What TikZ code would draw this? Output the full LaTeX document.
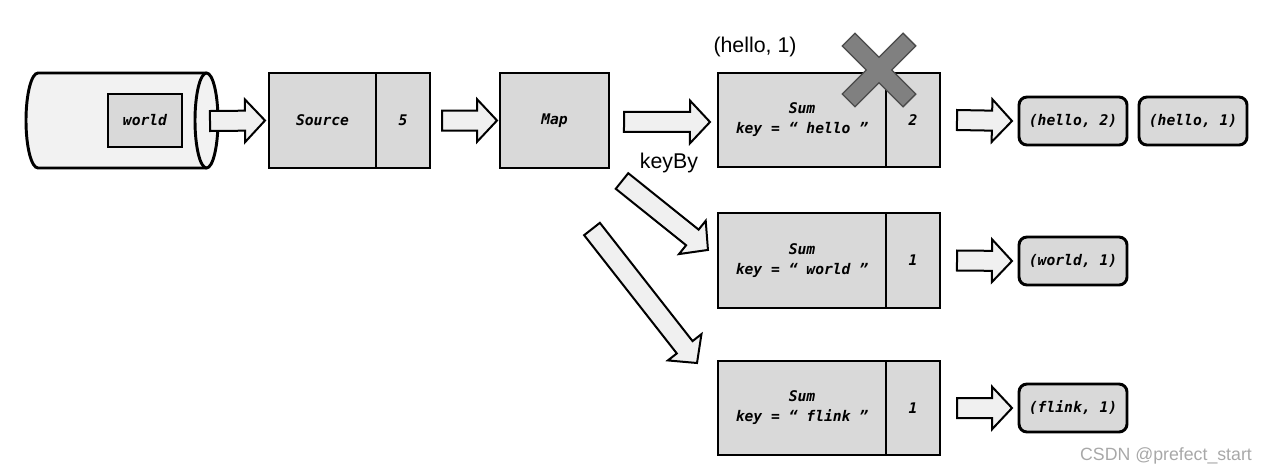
\documentclass[tikz,border=0pt]{standalone}
\usepackage{fontspec}
\setmainfont{Liberation Sans}
\newfontfamily\codefont{DejaVu Sans Mono}
\usetikzlibrary{positioning,calc}

\definecolor{boxgray}{HTML}{D9D9D9}
\definecolor{arrowfill}{HTML}{F0F0F0}
\definecolor{cylfill}{HTML}{F2F2F2}
\definecolor{crossgray}{HTML}{808080}
\definecolor{crossline}{HTML}{4A4A4A}
\definecolor{markgray}{HTML}{A8A8A8}

\newcommand{\pxu}{0.75pt}
\tikzset{
  cell/.style={draw=black, line width=2.2pt, fill=boxgray, inner sep=0pt, outer sep=0pt,
    minimum height=95*\pxu, align=center,
    font=\codefont\bfseries\itshape\fontsize{11}{15}\selectfont},
  tuple/.style={cell, rounded corners=8*\pxu, minimum width=108*\pxu, minimum height=48*\pxu},
  bigarrow/.style={draw=black, line width=1.5pt, fill=arrowfill, line join=miter},
  plaintext/.style={inner sep=0pt, font=\fontsize{16}{18}\selectfont},
}

% block arrow from #1 to #2
\newcommand{\fatarrow}[2]{%
  \draw[bigarrow] let \p1=(#1), \p2=(#2), \n1={atan2(\y2-\y1,\x2-\x1)}, \n2={veclen(\x2-\x1,\y2-\y1)} in
    [shift={(\p1)}, rotate=\n1]
    (0pt,-7.5pt) -- (\n2*1pt-15pt,-7.5pt) -- (\n2*1pt-15pt,-16pt) -- (\n2*1pt,0pt)
    -- (\n2*1pt-15pt,16pt) -- (\n2*1pt-15pt,7.5pt) -- (0pt,7.5pt) -- cycle;}

\begin{document}
\begin{tikzpicture}[x=0.75pt,y=-0.75pt]
    \useasboundingbox (0,0) rectangle (1269,475);

    % Input %
    \draw[line width=2.2pt, fill=cylfill] (206,73) -- (38,73)
        arc[start angle=270, end angle=90, x radius=12, y radius=47.5] -- (206,168);
    \draw[line width=2.2pt, fill=cylfill] (206.5,120.5) ellipse[x radius=11.5, y radius=47.5];
    \coordinate (cyl) at (210,121);
    \node[cell, minimum width=74*\pxu, minimum height=53*\pxu] (word) at (145,120.5) {world};

    % Operators %
    \node[cell, minimum width=107*\pxu] (src) at (322.5,120.5) {Source};
    \node[cell, minimum width=54*\pxu, right=0pt of src] (srcn) {5};
    \node[cell, minimum width=109*\pxu] (map) at (554.5,120.5) {Map};

    \node[cell, minimum width=168*\pxu, minimum height=94*\pxu] (sumh) at (802,120) {Sum\\key = “ hello ”};
    \node[cell, minimum width=54*\pxu, minimum height=94*\pxu, right=0pt of sumh] (sumhn) {2};
    \node[cell, minimum width=168*\pxu] (sumw) at (802,260.5) {Sum\\key = “ world ”};
    \node[cell, minimum width=54*\pxu, right=0pt of sumw] (sumwn) {1};
    \node[cell, minimum width=168*\pxu, minimum height=94*\pxu] (sumf) at (802,408) {Sum\\key = “ flink ”};
    \node[cell, minimum width=54*\pxu, minimum height=94*\pxu, right=0pt of sumf] (sumfn) {1};

    % Outputs %
    \node[tuple] (outh2) at (1073,121) {(hello, 2)};
    \node[tuple, right=12*\pxu of outh2] (outh1) {(hello, 1)};
    \node[tuple] (outw) at (1073,261) {(world, 1)};
    \node[tuple] (outf) at (1073,408) {(flink, 1)};

    % Arrows %
    \fatarrow{cyl}{[xshift=-3pt]src.west}
    \fatarrow{[xshift=9pt]srcn.east}{[xshift=-2.25pt]map.west}
    \fatarrow{[xshift=11.25pt,yshift=-1pt]map.east}{[xshift=-6pt,yshift=-1.5pt]sumh.west}
    \fatarrow{[xshift=9.75pt,yshift=-9.75pt]map.south east}{[xshift=-7.5pt,yshift=7.9pt]sumw.west}
    \fatarrow{[xshift=-12.75pt,yshift=-45.75pt]map.south east}{[xshift=-15.75pt,yshift=33.75pt]sumf.west}
    \fatarrow{[xshift=12.75pt]sumhn.east}{[xshift=-5.25pt]outh2.west}
    \fatarrow{[xshift=12.75pt]sumwn.east}{[xshift=-5.25pt]outw.west}
    \fatarrow{[xshift=12.75pt]sumfn.east}{[xshift=-5.25pt]outf.west}

    % Discarded record %
    \node[plaintext] (old) at (755,47) {(hello, 1)};
    \draw[fill=crossgray, draw=crossline, line width=1pt, shift={(879,70)}, rotate=45]
        (9,9) -- (9,43) -- (-9,43) -- (-9,9) -- (-43,9) -- (-43,-9) -- (-9,-9)
        -- (-9,-43) -- (9,-43) -- (9,-9) -- (43,-9) -- (43,9) -- cycle;
    \node[plaintext] (keyby) at (669,163) {keyBy};

    \node[inner sep=0pt, text=markgray, font=\fontsize{13.3}{15}\selectfont] (mark) at (1166,456) {CSDN @prefect\_start};
\end{tikzpicture}
\end{document}
